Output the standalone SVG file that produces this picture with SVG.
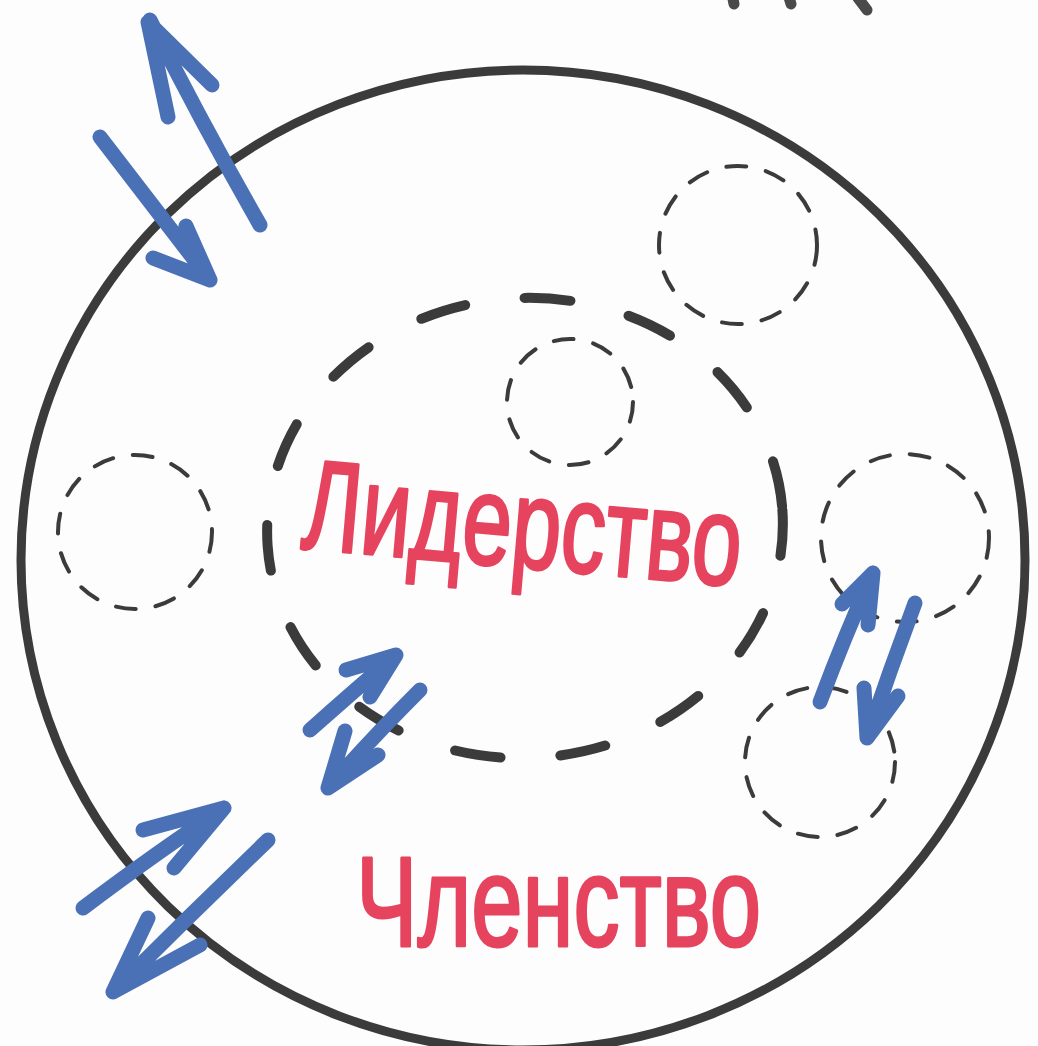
<svg xmlns="http://www.w3.org/2000/svg" width="1038" height="1046" viewBox="0 0 1038 1046">
<style>
.bg{fill:#fdfdfd}
.outer{fill:none;stroke:#3b3b3b;stroke-width:9}
.group{fill:none;stroke:#3b3b3b;stroke-width:10;stroke-linecap:round;stroke-dasharray:46 60}
.small{fill:none;stroke:#3b3b3b;stroke-width:4;stroke-linecap:round;stroke-dasharray:20 20}
.arrow{fill:none;stroke:#4a70b6;stroke-width:15;stroke-linecap:round;stroke-linejoin:round}
.label{fill:#e6445e;stroke:#e6445e;stroke-width:3;stroke-linejoin:round;font-family:"Liberation Sans",sans-serif;font-size:128px}
.mark{stroke:#4a4a4a;stroke-width:11;stroke-linecap:round}
</style>
<rect class="bg" x="0" y="0" width="1038" height="1046"/>
<g id="marks">
<line class="mark" x1="732" y1="-6" x2="734" y2="4"/>
<line class="mark" x1="788" y1="-6" x2="791" y2="4"/>
<line class="mark" x1="858" y1="-2" x2="867" y2="10"/>
</g>
<g id="membership">
<ellipse class="outer" cx="523" cy="560" rx="502" ry="490"/>
<text class="label" x="356" y="946" textLength="405" lengthAdjust="spacingAndGlyphs">Членство</text>
</g>
<g id="leadership">
<ellipse class="group" cx="525" cy="528" rx="258" ry="230" transform="rotate(-4 525 528)"/>
<text class="label" x="300" y="548" textLength="440" lengthAdjust="spacingAndGlyphs" transform="rotate(5 300 548)">Лидерство</text>
</g>
<g id="member-top-right"><circle class="small" cx="738" cy="245" r="79"/></g>
<g id="member-inner"><circle class="small" cx="570" cy="402" r="63"/></g>
<g id="member-left"><circle class="small" cx="135" cy="532" r="77"/></g>
<g id="member-right"><circle class="small" cx="905" cy="538" r="84"/></g>
<g id="member-bottom-right"><circle class="small" cx="820" cy="762" r="75"/></g>
<g id="connectors">
<path class="arrow" d="M260 225 Q200 120 150 20 M168 117 L148 22 L212 85"/>
<path class="arrow" d="M100 137 Q160 215 210 280 M186 226 L210 280 L153 258"/>
<path class="arrow" d="M83 908 Q160 850 224 808 M143 830 L224 808 L174 868"/>
<path class="arrow" d="M268 840 Q190 915 113 992 M148 918 L113 992 L200 945"/>
<path class="arrow" d="M310 730 Q355 690 396 655 M346 670 L396 655 L370 697"/>
<path class="arrow" d="M420 690 Q370 740 328 788 M345 731 L328 788 L378 755"/>
<path class="arrow" d="M820 702 Q845 635 873 573 M842 604 L873 573 L868 625"/>
<path class="arrow" d="M915 603 Q890 670 867 738 M864 688 L867 738 L898 696"/>
</g>
</svg>
